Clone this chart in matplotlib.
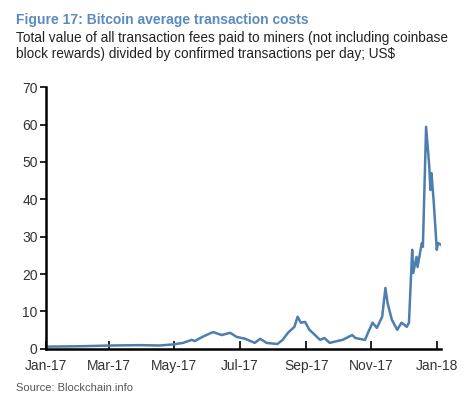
import pandas as pd
import matplotlib
matplotlib.use('Agg')
import matplotlib.pyplot as plt

plt.rcParams['font.family'] = ['Liberation Sans', 'DejaVu Sans']

# values (US$ per transaction)
dates = ['2017-01-01', '2017-02-02', '2017-03-02', '2017-03-30', '2017-04-17',
         '2017-04-30', '2017-05-09', '2017-05-17', '2017-05-20', '2017-05-27',
         '2017-06-06', '2017-06-14', '2017-06-22', '2017-06-28', '2017-07-06',
         '2017-07-15', '2017-07-20', '2017-07-26', '2017-08-05', '2017-08-10',
         '2017-08-15', '2017-08-21', '2017-08-24', '2017-08-27', '2017-08-31',
         '2017-09-04', '2017-09-07', '2017-09-14', '2017-09-18', '2017-09-23',
         '2017-09-30', '2017-10-05', '2017-10-14', '2017-10-17', '2017-10-26',
         '2017-10-29', '2017-11-02', '2017-11-06', '2017-11-11', '2017-11-14',
         '2017-11-16', '2017-11-20', '2017-11-25', '2017-11-29', '2017-12-04',
         '2017-12-06', '2017-12-09', '2017-12-10', '2017-12-13', '2017-12-14',
         '2017-12-18', '2017-12-19', '2017-12-22', '2017-12-25', '2017-12-26',
         '2017-12-27', '2017-12-29', '2018-01-01', '2018-01-02', '2018-01-05']
fees = [0.6, 0.7, 0.9, 1.0, 0.9,
        1.2, 1.6, 2.4, 2.1, 3.2,
        4.5, 3.7, 4.3, 3.2, 2.7,
        1.6, 2.7, 1.6, 1.3, 2.4,
        4.3, 5.9, 8.6, 7.0, 7.2,
        5.1, 4.3, 2.4, 2.9, 1.6,
        2.1, 2.4, 3.7, 2.9, 2.4,
        4.5, 7.0, 5.6, 8.6, 16.3,
        12.3, 7.8, 5.1, 7.0, 5.9,
        7.0, 26.5, 20.3, 24.6, 21.9,
        28.3, 27.3, 59.4, 48.7, 42.5,
        47.0, 39.8, 26.5, 28.3, 27.8]

x_ticks = ['2017-01-01', '2017-03-01', '2017-05-01', '2017-07-01',
           '2017-09-01', '2017-11-01', '2018-01-01']
x_labels = ['Jan-17', 'Mar-17', 'May-17', 'Jul-17', 'Sep-17', 'Nov-17', 'Jan-18']
y_ticks = [0, 10, 20, 30, 40, 50, 60, 70]

fig = plt.figure(figsize=(4.72, 3.96), dpi=100)
ax = fig.add_axes([0.0975, 0.119, 0.837, 0.661])

ax.plot(pd.to_datetime(dates), fees, color='#4d7eae', lw=1.8)

ax.set_xlim(pd.Timestamp('2017-01-01'), pd.Timestamp('2018-01-05'))
ax.set_ylim(0, 70)
ax.set_yticks(y_ticks)
ax.set_xticks(pd.to_datetime(x_ticks))
ax.set_xticklabels(x_labels)

for s in ['top', 'right']:
    ax.spines[s].set_visible(False)
for s in ['left', 'bottom']:
    ax.spines[s].set_linewidth(1.8)
    ax.spines[s].set_color('black')

ax.tick_params(axis='y', direction='out', length=4, width=1.2,
               labelsize=10, labelcolor='#333333', pad=2)
ax.tick_params(axis='x', direction='in', length=6, width=1.2,
               labelsize=10, labelcolor='#333333', pad=7)

fig.text(0.034, 0.94, 'Figure 17: Bitcoin average transaction costs',
         fontsize=10, fontweight='bold', color='#5b8ac0')
fig.text(0.034, 0.895, 'Total value of all transaction fees paid to miners (not including coinbase',
         fontsize=9.8, color='#222222')
fig.text(0.034, 0.853, 'block rewards) divided by confirmed transactions per day; US$',
         fontsize=9.8, color='#222222')
fig.text(0.034, 0.012, 'Source: Blockchain.info', fontsize=8, color='#555555')

fig.savefig('out.png', dpi=100)
